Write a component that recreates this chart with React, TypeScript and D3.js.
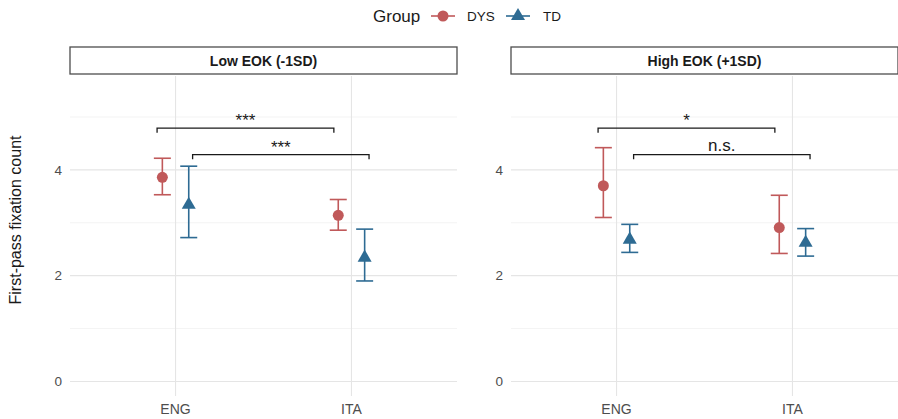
import React from "react"
import * as d3 from "d3"

const panels = ["Low EOK (-1SD)", "High EOK (+1SD)"]
const languages = ["ENG", "ITA"]
const groups = ["DYS", "TD"]
const colours = { DYS: "#C0595A", TD: "#2E6B93" }

// [panel][language]
const dysMean = [[3.86, 3.14], [3.7, 2.91]]
const dysLow = [[3.53, 2.86], [3.1, 2.42]]
const dysHigh = [[4.22, 3.44], [4.42, 3.52]]
const tdMean = [[3.36, 2.36], [2.7, 2.64]]
const tdLow = [[2.72, 1.9], [2.44, 2.37]]
const tdHigh = [[4.07, 2.88], [2.97, 2.89]]

// brackets: [xmin, xmax] in category units, y, label
const bracketX = [[0.895, 1.9], [1.097, 2.1]]
const bracketY = [4.79, 4.29]
const bracketLabels = [["***", "***"], ["*", "n.s."]]

const yTicks = [0, 2, 4]
const yMinor = [1, 3, 5]

const width = 898
const height = 419
const panelLeft = [70, 511]
const panelWidth = 387
const top = 76
const bottom = 396
const dodge = 0.075

const App = () => {
  const y = d3.scaleLinear().domain([-0.275, 5.775]).range([bottom, top])
  const font = "Liberation Sans, Arial, sans-serif"

  const renderPanel = (p: number) => {
    const x = d3
      .scaleLinear()
      .domain([0.4, 2.6])
      .range([panelLeft[p], panelLeft[p] + panelWidth])
    const series = [
      { g: "DYS", mean: dysMean[p], lo: dysLow[p], hi: dysHigh[p], off: -dodge },
      { g: "TD", mean: tdMean[p], lo: tdLow[p], hi: tdHigh[p], off: dodge }
    ]
    const tri = d3.symbol().type(d3.symbolTriangle).size(85)
    return (
      <g key={p}>
        {yMinor.map(v => (
          <line key={"m" + v} x1={x(0.4)} x2={x(2.6)} y1={y(v)} y2={y(v)} stroke="#EBEBEB" strokeWidth={0.6} />
        ))}
        {yTicks.map(v => (
          <line key={"t" + v} x1={x(0.4)} x2={x(2.6)} y1={y(v)} y2={y(v)} stroke="#E5E5E5" strokeWidth={1.1} />
        ))}
        {languages.map((l, i) => (
          <line key={l} x1={x(i + 1)} x2={x(i + 1)} y1={top} y2={bottom} stroke="#E5E5E5" strokeWidth={1.1} />
        ))}
        {yTicks.map(v => (
          <text key={"yl" + v} x={panelLeft[p] - 8} y={y(v)} dy="0.35em" textAnchor="end" fontSize={13.5} fill="#4D4D4D">
            {v}
          </text>
        ))}
        {languages.map((l, i) => (
          <text key={"xl" + l} x={x(i + 1)} y={409} dy="0.35em" textAnchor="middle" fontSize={14} fill="#4D4D4D">
            {l}
          </text>
        ))}
        <rect x={panelLeft[p]} y={47} width={panelWidth} height={27} fill="white" stroke="#4D4D4D" strokeWidth={1.3} />
        <text x={panelLeft[p] + panelWidth / 2} y={61} dy="0.35em" textAnchor="middle" fontSize={14} fontWeight="bold" fill="#1A1A1A">
          {panels[p]}
        </text>
        {series.map(s =>
          languages.map((l, i) => {
            const cx = x(i + 1 + s.off)
            const c = colours[s.g]
            return (
              <g key={s.g + l}>
                <line x1={cx} x2={cx} y1={y(s.lo[i])} y2={y(s.hi[i])} stroke={c} strokeWidth={1.6} />
                <line x1={cx - 8.5} x2={cx + 8.5} y1={y(s.lo[i])} y2={y(s.lo[i])} stroke={c} strokeWidth={1.6} />
                <line x1={cx - 8.5} x2={cx + 8.5} y1={y(s.hi[i])} y2={y(s.hi[i])} stroke={c} strokeWidth={1.6} />
                {s.g === "DYS" ? (
                  <circle cx={cx} cy={y(s.mean[i])} r={5.5} fill={c} />
                ) : (
                  <path d={tri()} transform={`translate(${cx},${y(s.mean[i]) + 1})`} fill={c} />
                )}
              </g>
            )
          })
        )}
        {bracketX.map((b, k) => {
          const yb = y(bracketY[k])
          const yt = y(bracketY[k] - 0.09)
          const lab = bracketLabels[p][k]
          return (
            <g key={"b" + k}>
              <path
                d={`M${x(b[0])},${yt}V${yb}H${x(b[1])}V${yt}`}
                fill="none"
                stroke="#1A1A1A"
                strokeWidth={1.3}
              />
              <text x={(x(b[0]) + x(b[1])) / 2} y={yb - (lab === "n.s." ? 4 : 2)} textAnchor="middle" fontSize={17} fill="#1A1A1A">
                {lab}
              </text>
            </g>
          )
        })}
      </g>
    )
  }

  const triKey = d3.symbol().type(d3.symbolTriangle).size(85)

  return (
    <svg width={width} height={height} style={{ position: "absolute", left: 0, top: 0 }} fontFamily={font}>
      <rect width={width} height={height} fill="white" />
      <text x={373} y={16} dy="0.35em" fontSize={17} fill="#1A1A1A">
        Group
      </text>
      <g>
        <line x1={431} x2={455} y1={16} y2={16} stroke={colours.DYS} strokeWidth={1.6} />
        <circle cx={443} cy={16} r={5.5} fill={colours.DYS} />
        <text x={467} y={16} dy="0.35em" fontSize={13.5} fill="#1A1A1A">
          {groups[0]}
        </text>
        <line x1={506} x2={530} y1={16} y2={16} stroke={colours.TD} strokeWidth={1.6} />
        <path d={triKey()} transform="translate(518,16)" fill={colours.TD} />
        <text x={543} y={16} dy="0.35em" fontSize={13.5} fill="#1A1A1A">
          {groups[1]}
        </text>
      </g>
      <text transform="translate(15,220) rotate(-90)" textAnchor="middle" dy="0.35em" fontSize={16} fill="#1A1A1A">
        First-pass fixation count
      </text>
      {panels.map((_, p) => renderPanel(p))}
    </svg>
  )
}

export default App
